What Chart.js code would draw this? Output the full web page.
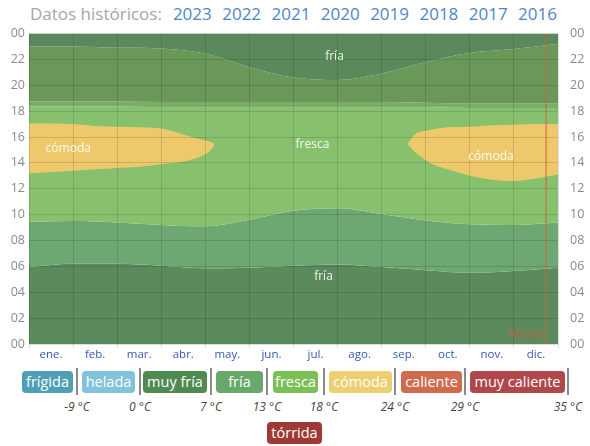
<!DOCTYPE html>
<html>
<head>
<meta charset="utf-8">
<script src="https://cdn.jsdelivr.net/npm/chart.js@4"></script>
<style>
  body { margin: 0; width: 590px; height: 446px; background: #fff; font-family: "Open Sans", sans-serif; position: relative; overflow: hidden; }
  #title { position: absolute; left: 30px; top: 2px; font-size: 17px; color: #a6a6a6; white-space: nowrap; }
  #title span { color: #4f86c6; margin-left: 6px; }
  #title span:first-child { margin-left: 11px; }
  #wrap { position: absolute; left: 0; top: 22px; width: 590px; height: 340px; }
  .pill { position: absolute; top: 371px; height: 22px; line-height: 21px; border-radius: 4px; color: #fff; font-size: 14.5px; text-align: center; }
  .sep { position: absolute; top: 368px; width: 2px; height: 27px; background: #8a8a8a; }
  .deg { position: absolute; top: 398px; width: 40px; margin-left: -20px; text-align: center; font-size: 12px; font-style: italic; color: #444; }
</style>
</head>
<body>
<div id="title">Datos históricos:<span>2023</span> <span>2022</span> <span>2021</span> <span>2020</span> <span>2019</span> <span>2018</span> <span>2017</span> <span>2016</span></div>
<div id="wrap"><canvas id="horasChart"></canvas></div>
<div id="legend"></div>
<script>
// meses (etiquetas centradas en cada mes)
const meses = ['ene.', 'feb.', 'mar.', 'abr.', 'may.', 'jun.', 'jul.', 'ago.', 'sep.', 'oct.', 'nov.', 'dic.'];
const mesX = [0, 1, 2, 3, 4, 5, 6, 7, 8, 9, 10, 11, 12];

// límites de las bandas (hora del día) al inicio de cada mes
const limNocheFria = [5.95, 6.2, 6.2, 6.05, 5.85, 5.9, 6.05, 6.15, 5.95, 5.7, 5.5, 5.65, 5.9];
const limFriaFresca = [9.45, 9.5, 9.4, 9.2, 9.1, 9.6, 10.3, 10.5, 10.05, 9.55, 9.25, 9.2, 9.4];
const limCrepusculo = [18.35, 18.35, 18.35, 18.3, 18.3, 18.3, 18.3, 18.3, 18.3, 18.3, 18.25, 18.25, 18.25];
const limAnochecer = [18.75, 18.75, 18.75, 18.7, 18.7, 18.7, 18.7, 18.7, 18.7, 18.65, 18.6, 18.6, 18.6];
const limNocheAlta = [23.0, 23.0, 22.9, 22.85, 22.45, 21.4, 20.6, 20.4, 20.9, 21.8, 22.5, 22.8, 23.2];

// zonas "cómoda"
const comodaIzqX = [0, 0.5, 1, 1.5, 2, 2.5, 3, 3.5, 3.9, 4.1, 4.2];
const comodaIzqSup = [17.05, 17.05, 17.0, 16.85, 16.8, 16.75, 16.65, 16.2, 15.8, 15.65, 15.5];
const comodaIzqInf = [13.2, 13.3, 13.4, 13.5, 13.6, 13.7, 13.9, 14.1, 14.5, 14.9, 15.3];
const comodaDerX = [8.6, 8.8, 9.1, 9.5, 10, 10.5, 11, 11.5, 12];
const comodaDerSup = [15.6, 16.3, 16.55, 16.75, 16.8, 16.9, 16.95, 17.0, 17.0];
const comodaDerInf = [15.4, 14.7, 14.0, 13.5, 13.0, 12.7, 12.6, 12.8, 13.1];

const ahora = 11.73;

// etiquetas dentro del gráfico
const etiquetas = [
    { texto: 'fría', x: 6.93, y: 22.25 },
    { texto: 'cómoda', x: 0.89, y: 15.1 },
    { texto: 'fresca', x: 6.43, y: 15.4 },
    { texto: 'cómoda', x: 10.48, y: 14.45 },
    { texto: 'fría', x: 6.68, y: 5.2 }
];

// leyenda
const categorias = ['frígida', 'helada', 'muy fría', 'fría', 'fresca', 'cómoda', 'caliente', 'muy caliente'];
const coloresCat = ['#4f9fb6', '#80c3db', '#4f8a51', '#68a86a', '#7dbf57', '#ecd070', '#d06b4d', '#b0474a'];
const temperaturas = ['-9 °C', '0 °C', '7 °C', '13 °C', '18 °C', '24 °C', '29 °C', '35 °C'];

const pt = (xs, ys) => xs.map((x, i) => ({ x: x, y: ys[i] }));

const banda = (datos, color, fill, orden) => ({
    data: datos,
    backgroundColor: color,
    borderWidth: 0,
    pointRadius: 0,
    fill: fill,
    order: orden,
    cubicInterpolationMode: 'monotone'
});

const etiquetasPlugin = {
    id: 'etiquetas',
    afterDraw(chart) {
        const { ctx, scales } = chart;
        ctx.save();
        ctx.font = '12px "Open Sans"';
        ctx.fillStyle = 'rgba(255,255,255,0.9)';
        ctx.textAlign = 'center';
        ctx.textBaseline = 'middle';
        etiquetas.forEach(e => ctx.fillText(e.texto, scales.x.getPixelForValue(e.x), scales.y.getPixelForValue(e.y)));
        ctx.fillStyle = 'rgba(215,90,75,0.85)';
        ctx.textAlign = 'right';
        ctx.font = '13px "Open Sans"';
        ctx.fillText('Ahora', scales.x.getPixelForValue(ahora) - 2, scales.y.getPixelForValue(0) - 10);
        ctx.restore();
    }
};

const ctx1 = document.getElementById('horasChart').getContext('2d');
new Chart(ctx1, {
    type: 'line',
    data: {
        datasets: [
            banda(pt(mesX, limNocheFria), '#5b8a5c', 'start', 10),
            banda(pt(mesX, limFriaFresca), '#6da872', '-1', 9),
            banda(pt(mesX, limCrepusculo), '#88c16e', '-1', 8),
            banda(pt(mesX, limAnochecer), '#7aad67', '-1', 7),
            banda(pt(mesX, limNocheAlta), '#6a9858', '-1', 6),
            banda(pt(mesX, limNocheAlta), '#5a8a5b', 'end', 5),
            banda(pt(comodaIzqX, comodaIzqInf), 'rgba(0,0,0,0)', false, 4),
            banda(pt(comodaIzqX, comodaIzqSup), '#edc96c', '-1', 3),
            banda(pt(comodaDerX, comodaDerInf), 'rgba(0,0,0,0)', false, 2),
            banda(pt(comodaDerX, comodaDerSup), '#edc96c', '-1', 1),
            {
                data: [{ x: ahora, y: 0 }, { x: ahora, y: 24 }],
                borderColor: '#d2603f',
                borderWidth: 1,
                pointRadius: 0,
                fill: false,
                order: 0
            }
        ]
    },
    options: {
        responsive: true,
        maintainAspectRatio: false,
        animation: false,
        layout: { padding: { top: 8 } },
        plugins: {
            legend: { display: false },
            tooltip: { enabled: false },
            filler: { drawTime: 'beforeDatasetDraw' }
        },
        scales: {
            x: {
                type: 'linear',
                min: 0,
                max: 12,
                afterBuildTicks: s => { s.ticks = []; for (let i = 0; i <= 24; i++) s.ticks.push({ value: i / 2 }); },
                afterFit: s => { s.height = 18; },
                ticks: {
                    autoSkip: false,
                    maxRotation: 0,
                    padding: 0,
                    color: '#3558b2',
                    font: { size: 11.5, family: 'Open Sans' },
                    callback: v => (v % 1 === 0.5 ? meses[Math.floor(v)] : '')
                },
                grid: {
                    z: 1,
                    color: c => (c.tick && c.tick.value % 1 === 0 ? 'rgba(0,0,0,0.13)' : 'rgba(0,0,0,0)'),
                    tickLength: 4
                },
                border: { display: false }
            },
            y: {
                min: 0,
                max: 24,
                afterFit: s => { s.width = 29; },
                ticks: {
                    stepSize: 2,
                    padding: 4,
                    color: '#8a8a8a',
                    font: { size: 12.5, family: 'Open Sans' },
                    callback: v => String(v % 24).padStart(2, '0')
                },
                grid: { z: 1, color: 'rgba(0,0,0,0.13)', drawTicks: false },
                border: { display: false }
            },
            y2: {
                position: 'right',
                min: 0,
                max: 24,
                afterFit: s => { s.width = 32; },
                ticks: {
                    stepSize: 2,
                    padding: 4,
                    color: '#8a8a8a',
                    font: { size: 12.5, family: 'Open Sans' },
                    callback: v => String(v % 24).padStart(2, '0')
                },
                grid: { display: false },
                border: { display: false }
            }
        }
    },
    plugins: [etiquetasPlugin]
});

// leyenda de temperaturas
const pillX = [[22, 73], [82, 135], [143, 207], [216, 263], [273, 318], [329, 392], [401, 462], [470, 565]];
const sepX = [77, 140, 211, 267, 324, 395, 465, 568];
const legend = document.getElementById('legend');
categorias.forEach((c, i) => {
    const p = document.createElement('div');
    p.className = 'pill';
    p.style.left = pillX[i][0] + 'px';
    p.style.width = (pillX[i][1] - pillX[i][0]) + 'px';
    p.style.background = coloresCat[i];
    p.textContent = c;
    legend.appendChild(p);
    const s = document.createElement('div');
    s.className = 'sep';
    s.style.left = (sepX[i] - 1) + 'px';
    legend.appendChild(s);
    const d = document.createElement('div');
    d.className = 'deg';
    d.style.left = sepX[i] + 'px';
    d.textContent = temperaturas[i];
    legend.appendChild(d);
});
const t = document.createElement('div');
t.className = 'pill';
t.style.left = '267px';
t.style.top = '422px';
t.style.width = '55px';
t.style.background = '#9d3a36';
t.textContent = 'tórrida';
legend.appendChild(t);
</script>
</body>
</html>
